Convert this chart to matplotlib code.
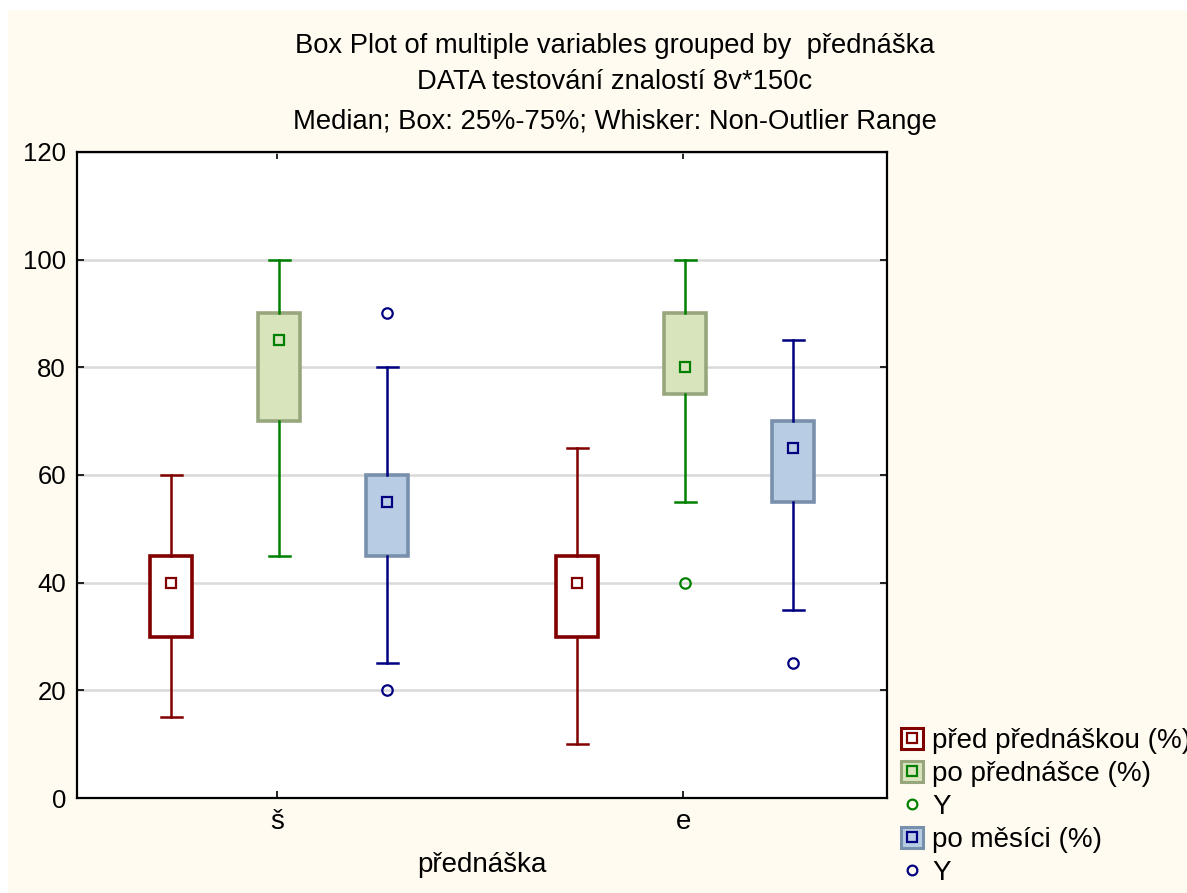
import matplotlib
matplotlib.use("Agg")
import matplotlib.pyplot as plt
from matplotlib.patches import Rectangle
from matplotlib.lines import Line2D
from matplotlib.legend_handler import HandlerTuple

plt.rcParams["font.family"] = ["Liberation Sans", "DejaVu Sans"]

# ---------- data ----------
groups = ["š", "e"]
series = ["před přednáškou (%)", "po přednášce (%)", "po měsíci (%)"]
medians = [[40, 85, 55], [40, 80, 65]]
q1 = [[30, 70, 45], [30, 75, 55]]
q3 = [[45, 90, 60], [45, 90, 70]]
whislo = [[15, 45, 25], [10, 55, 35]]
whishi = [[60, 100, 80], [65, 100, 85]]
fliers = [[[], [], [90, 20]], [[], [40], [25]]]

# ---------- styles ----------
line_col = ["#800000", "#008000", "#000080"]
box_fill = ["#FFFFFF", "#D8E4BC", "#B8CCE4"]
box_edge = ["#800000", "#98A67E", "#7890AC"]
BG = "#FFFBF0"
W, H = 1187, 893

fig = plt.figure(figsize=(W / 100, H / 100), dpi=100, facecolor="white")
fig.patches.append(Rectangle((8 / W, 0), 1, 1 - 10 / H, transform=fig.transFigure,
                             facecolor=BG, edgecolor="none", zorder=-10))
ax = fig.add_axes([77 / W, 1 - 798 / H, 810 / W, 646 / H])
ax.set_facecolor("white")

offsets = [-0.261, 0.005, 0.271]
for s in range(3):
    stats = []
    pos = []
    for g in range(2):
        stats.append(dict(med=medians[g][s], mean=medians[g][s], q1=q1[g][s], q3=q3[g][s],
                          whislo=whislo[g][s], whishi=whishi[g][s], fliers=fliers[g][s]))
        pos.append(g + 1 + offsets[s])
    ax.bxp(stats, positions=pos, widths=0.103, patch_artist=True, showmeans=True,
           manage_ticks=False,
           boxprops=dict(facecolor=box_fill[s], edgecolor=box_edge[s], linewidth=2.6),
           whiskerprops=dict(color=line_col[s], linewidth=1.8),
           capprops=dict(color=line_col[s], linewidth=1.8),
           capwidths=0.052,
           medianprops=dict(linewidth=0),
           meanprops=dict(marker="s", markersize=7.5, markerfacecolor=box_fill[s],
                          markeredgecolor=line_col[s], markeredgewidth=1.6),
           flierprops=dict(marker="o", markersize=7.5, markerfacecolor="none",
                           markeredgecolor=line_col[s], markeredgewidth=1.6))

ax.set_xlim(0.507, 2.502)
ax.set_ylim(0, 120)
ax.set_yticks(range(0, 121, 20))
ax.set_xticks([1, 2])
ax.set_xticklabels(groups)
ax.yaxis.grid(True, color="#D9D9D9", linewidth=1.8)
ax.set_axisbelow(True)
ax.tick_params(direction="in", length=5, width=1.2, labelsize=18.5, top=True, right=True,
               pad=8, colors="black")
ax.tick_params(axis="x", labelsize=20)
for sp in ax.spines.values():
    sp.set_linewidth(1.6)
ax.set_xlabel("přednáška", fontsize=20, labelpad=12)

for txt, y in [("Box Plot of multiple variables grouped by  přednáška", 46),
               ("DATA testování znalostí 8v*150c", 82),
               ("Median; Box: 25%-75%; Whisker: Non-Outlier Range", 122)]:
    fig.text(615 / W, 1 - y / H, txt, ha="center", va="center", fontsize=19.7)

# ---------- legend ----------
def box_handle(s):
    p = Rectangle((0, 0), 1, 1, facecolor=box_fill[s], edgecolor=box_edge[s], linewidth=2.2)
    m = Line2D([], [], linestyle="none", marker="s", markersize=7, markerfacecolor=box_fill[s],
               markeredgecolor=line_col[s], markeredgewidth=1.6)
    return (p, m)

def out_handle(s):
    return Line2D([], [], linestyle="none", marker="o", markersize=7, markerfacecolor="none",
                  markeredgecolor=line_col[s], markeredgewidth=1.6)

handles = [box_handle(0), box_handle(1), out_handle(1), box_handle(2), out_handle(2)]
labels = [series[0], series[1], "Y", series[2], "Y"]
fig.legend(handles, labels, loc="lower left", bbox_to_anchor=(901 / W, 7 / H),
           frameon=False, fontsize=20, handlelength=0.78, handleheight=0.78,
           handletextpad=0.35, labelspacing=0.25, borderaxespad=0, borderpad=0,
           handler_map={tuple: HandlerTuple(ndivide=1, pad=0)})

fig.savefig("out.png", dpi=100, facecolor=fig.get_facecolor())
